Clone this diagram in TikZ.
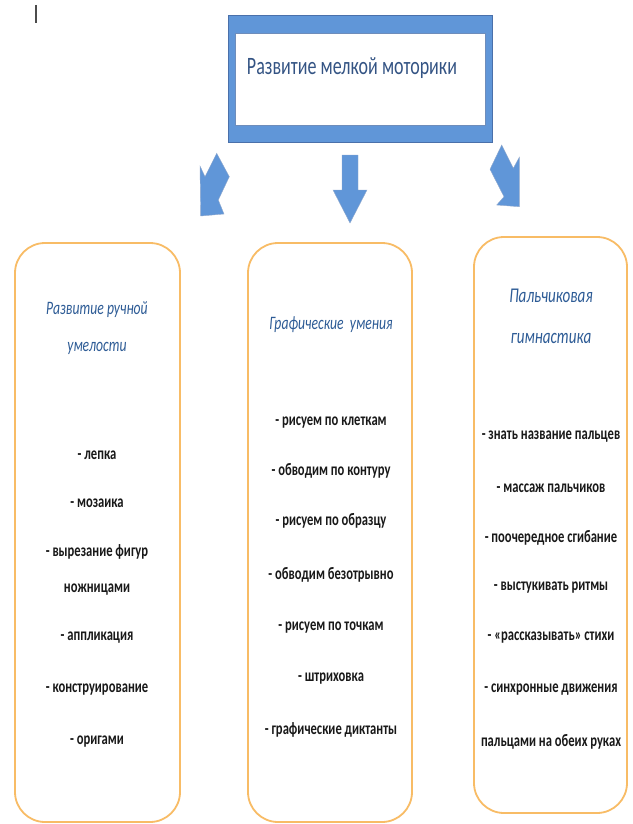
\documentclass[tikz,border=0pt]{standalone}
\usepackage{fontspec}
\setmainfont{Carlito}[FakeStretch=0.72]
\definecolor{arrowblue}{RGB}{96,150,216}
\definecolor{arrowedge}{RGB}{74,112,170}
\definecolor{titleblue}{RGB}{52,84,132}
\definecolor{headblue}{RGB}{46,92,150}
\definecolor{boxorange}{RGB}{248,188,102}
\tikzset{
  colbox/.style={draw=boxorange, line width=1.8pt, rounded corners=30pt, fill=white},
  headtext/.style={font=\fontsize{19}{22}\selectfont\itshape, text=headblue, inner sep=0pt},
  bigheadtext/.style={font=\fontsize{21}{24}\selectfont\itshape, text=headblue, inner sep=0pt},
  itemtext/.style={font=\fontsize{17.5}{20}\selectfont\bfseries, text=black!90, inner sep=0pt},
  titletext/.style={font=\fontsize{25}{28}\selectfont, text=titleblue, inner sep=0pt},
  blockarrow/.style={fill=arrowblue, draw=arrowedge!60, line width=0.4pt, line join=miter}
}
\begin{document}
\begin{tikzpicture}[x=1pt,y=-1pt]
\useasboundingbox (0,0) rectangle (632,824);
% cursor mark
\draw[black!70, line width=1.2pt] (36,5) -- (36,23);
% top box
\fill[arrowblue] (228,15) rectangle (492,142);
\draw[arrowedge, line width=0.8pt] (228,15) rectangle (492,142);
\fill[white] (235,33) rectangle (485,125);
\draw[arrowedge!80, line width=0.8pt] (235,33) rectangle (485,125);
\node[titletext] (title) at (352,68) {Развитие мелкой моторики};
% arrows
\filldraw[blockarrow] (216.7,153.3) -- (229.3,176.7) -- (218.3,200) -- (224,214) -- (200.7,216) -- (200,166) -- (205,176.7) -- cycle;
\filldraw[blockarrow] (342,155) -- (358,155) -- (358,190) -- (367,190) -- (350,223) -- (333,190) -- (342,190) -- cycle;
\filldraw[blockarrow] (501.7,145) -- (513.3,168.3) -- (519.3,157.3) -- (519.3,206.7) -- (496.7,205) -- (504,196.7) -- (490,169.3) -- cycle;
% column boxes
\draw[colbox] (15,243) rectangle (180,822);
\draw[colbox] (248,243) rectangle (412,822);
\draw[colbox] (474,237) rectangle (627,813);
% left column
\node[headtext] (l1) at (97,310) {Развитие ручной};
\node[headtext] (l2) at (97,348) {умелости};
\node[itemtext] (la) at (97,455) {- лепка};
\node[itemtext] (lb) at (97,503) {- мозаика};
\node[itemtext] (lc) at (97,552) {- вырезание фигур};
\node[itemtext] (ld) at (97,590) {ножницами};
\node[itemtext] (le) at (97,638) {- аппликация};
\node[itemtext] (lf) at (97,690) {- конструирование};
\node[itemtext] (lg) at (97,742) {- оригами};
% middle column
\node[headtext] (m1) at (331,325) {Графические\ \ умения};
\node[itemtext] (ma) at (331,423) {- рисуем по клеткам};
\node[itemtext] (mb) at (331,471) {- обводим по контуру};
\node[itemtext] (mc) at (331,521) {- рисуем по образцу};
\node[itemtext] (md) at (331,575) {- обводим безотрывно};
\node[itemtext] (me) at (331,628) {- рисуем по точкам};
\node[itemtext] (mf) at (331,679) {- штриховка};
\node[itemtext] (mg) at (331,730) {- графические диктанты};
% right column
\node[bigheadtext] (r1) at (551,296) {Пальчиковая};
\node[bigheadtext] (r2) at (551,338) {гимнастика};
\node[itemtext] (ra) at (551,437) {- знать название пальцев};
\node[itemtext] (rb) at (551,488) {- массаж пальчиков};
\node[itemtext] (rc) at (551,538) {- поочередное сгибание};
\node[itemtext] (rd) at (551,588) {- выстукивать ритмы};
\node[itemtext] (re) at (551,638) {- «рассказывать» стихи};
\node[itemtext] (rf) at (551,690) {- синхронные движения};
\node[itemtext] (rg) at (551,742) {пальцами на обеих руках};
\end{tikzpicture}
\end{document}
